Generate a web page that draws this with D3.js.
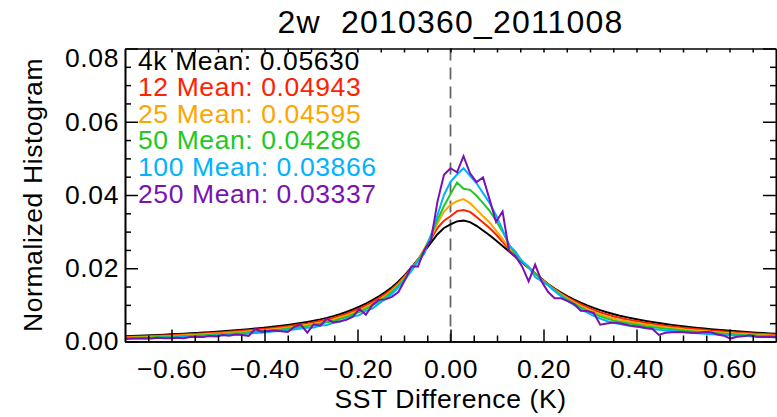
<!DOCTYPE html>
<html><head><meta charset="utf-8">
<script src="https://cdn.jsdelivr.net/npm/d3@7"></script>
<style>
body{margin:0;background:#fff}
svg{display:block}
text{font-family:"Liberation Sans",Arial,Helvetica,sans-serif;fill:#000}
</style>
</head><body>
<svg id="chart" width="777" height="417"></svg>
<script>
// ---------------- data ----------------
const chartTitle = "2w  2010360_2011008";
const xTitle = "SST Difference (K)";
const yTitle = "Normalized Histogram";

const bins = [
-0.700,-0.686,-0.672,-0.658,-0.644,-0.630,-0.616,-0.602,-0.588,-0.574,
-0.560,-0.546,-0.532,-0.518,-0.504,-0.490,-0.476,-0.462,-0.448,-0.434,
-0.420,-0.406,-0.392,-0.378,-0.364,-0.350,-0.336,-0.322,-0.308,-0.294,
-0.280,-0.266,-0.252,-0.238,-0.224,-0.210,-0.196,-0.182,-0.168,-0.154,
-0.140,-0.126,-0.112,-0.098,-0.084,-0.070,-0.056,-0.042,-0.028,-0.014,
0.000,0.014,0.028,0.042,0.056,0.070,0.084,0.098,0.112,0.126,
0.140,0.154,0.168,0.182,0.196,0.210,0.224,0.238,0.252,0.266,
0.280,0.294,0.308,0.322,0.336,0.350,0.364,0.378,0.392,0.406,
0.420,0.434,0.448,0.462,0.476,0.490,0.504,0.518,0.532,0.546,
0.560,0.574,0.588,0.602,0.616,0.630,0.644,0.658,0.672,0.686,
0.700];

const hist4k = [
.00140,.00148,.00156,.00163,.00170,.00178,.00186,.00195,.00204,.00214,
.00224,.00234,.00245,.00256,.00267,.00279,.00292,.00306,.00321,.00337,
.00353,.00370,.00389,.00409,.00430,.00453,.00478,.00505,.00535,.00568,
.00604,.00645,.00692,.00745,.00805,.00873,.00950,.01035,.01130,.01235,
.01350,.01480,.01640,.01820,.02020,.02240,.0246,.0270,.0293,.0310,
.0320,.0328,.0330,.0326,.0316,.0303,.0290,.0276,.0261,.0246,
.0231,.0216,.0201,.0186,.0171,.01570,.01445,.01335,.01235,.01145,
.01062,.00987,.00918,.00856,.00800,.00750,.00705,.00665,.00628,.00594,
.00562,.00532,.00504,.00478,.00454,.00432,.00411,.00391,.00372,.00354,
.00337,.00321,.00306,.00292,.00279,.00266,.00254,.00242,.00231,.00220,
.00210];

const hist12 = [
.00123,.00131,.00139,.00143,.00150,.00158,.00166,.00173,.00182,.00192,
.00202,.00209,.00220,.00231,.00242,.00252,.00265,.00279,.00291,.00307,
.00323,.00338,.00357,.00377,.00395,.00418,.00441,.00468,.00495,.00528,
.00562,.00603,.00647,.00700,.00758,.00826,.00900,.00985,.01080,.01185,
.01303,.01435,.01600,.01788,.01998,.02230,.0252,.0280,.0310,.0330,
.0342,.0356,.0359,.0354,.0340,.0325,.0310,.0292,.0272,.0252,
.0234,.0218,.0202,.0186,.0170,.01560,.01428,.01310,.01203,.01108,
.01017,.00937,.00863,.00799,.00740,.00690,.00648,.00610,.00576,.00544,
.00512,.00485,.00459,.00433,.00412,.00392,.00371,.00354,.00335,.00319,
.00302,.00289,.00274,.00262,.00249,.00239,.00227,.00215,.00206,.00195,
.00185];

const hist25 = [
.00105,.00113,.00121,.00123,.00130,.00138,.00146,.00150,.00159,.00169,
.00179,.00184,.00195,.00206,.00217,.00224,.00237,.00251,.00261,.00277,
.00293,.00305,.00324,.00344,.00360,.00383,.00403,.00430,.00455,.00488,
.00519,.00560,.00602,.00655,.00710,.00778,.00850,.00935,.01030,.01135,
.01255,.01390,.01560,.01755,.01975,.02220,.0254,.0285,.0322,.0355,
.0373,.0383,.0389,.0378,.0360,.0342,.0325,.0303,.0280,.0256,
.0236,.0219,.0202,.0185,.0169,.01550,.01410,.01285,.01170,.01070,
.00972,.00887,.00808,.00741,.00680,.00630,.00590,.00555,.00523,.00494,
.00462,.00437,.00414,.00388,.00369,.00352,.00331,.00316,.00297,.00284,
.00267,.00256,.00241,.00232,.00219,.00211,.00199,.00187,.00181,.00170,
.00160];

const hist50 = [
.00090,.00098,.00106,.00105,.00112,.00120,.00128,.00130,.00139,.00149,
.00159,.00162,.00173,.00184,.00195,.00200,.00213,.00227,.00235,.00251,
.00267,.00276,.00295,.00315,.00329,.00352,.00370,.00397,.00420,.00453,
.00482,.00523,.00562,.00615,.00668,.00736,.00806,.00891,.00986,.01091,
.01213,.01350,.01525,.01726,.01955,.02211,.0250,.0290,.0332,.0370,
.0403,.0434,.0417,.0414,.0398,.0378,.0357,.0330,.0300,.0265,
.0238,.0220,.0203,.0186,.0168,.01541,.01395,.01263,.01141,.01037,
.00932,.00843,.00760,.00690,.00627,.00577,.00539,.00507,.00477,.00450,
.00418,.00395,.00374,.00348,.00332,.00317,.00296,.00283,.00264,.00253,
.00236,.00227,.00212,.00206,.00193,.00187,.00175,.00163,.00159,.00148,
.00138];

const hist100 = [
.00070,.00078,.00086,.00083,.00090,.00098,.00106,.00105,.00114,.00124,
.00134,.00134,.00145,.00156,.00167,.00169,.00182,.00196,.00201,.00217,
.00233,.00240,.00259,.00279,.00290,.00313,.00328,.00355,.00375,.00385,
.00434,.00450,.00512,.00540,.00615,.00683,.00720,.00835,.00900,.01035,
.01160,.01300,.01480,.01690,.01930,.02200,.0240,.0290,.0345,.0400,
.0436,.0456,.0473,.0452,.0432,.0405,.0378,.0345,.0305,.0262,
.0245,.0218,.0204,.0176,.0165,.01530,.01375,.01235,.01105,.00995,
.00882,.00787,.00698,.00626,.00560,.00510,.00475,.00445,.00418,.00394,
.00362,.00342,.00324,.00298,.00284,.00272,.00251,.00241,.00222,.00214,
.00197,.00191,.00176,.00172,.00159,.00156,.00144,.00132,.00131,.00120,
.00110];

const hist250 = [
.0007,.0008,.0008,.0009,.0008,.0010,.0009,.0009,.0010,.0009,
.0012,.0013,.0012,.0015,.0014,.0018,.0016,.0019,.0018,.0015,
.0034,.0027,.0029,.0030,.0028,.0026,.0040,.0046,.0024,.0047,
.0043,.0062,.0052,.0055,.0059,.0068,.0089,.0073,.0100,.0114,
.0115,.0122,.0135,.0168,.0205,.0205,.0250,.0277,.0382,.0455,
.0473,.0462,.0506,.0459,.0435,.0448,.0388,.0327,.0355,.0247,
.0232,.0205,.0164,.0210,.0164,.0135,.0118,.0118,.0110,.0102,
.0084,.0083,.0078,.0046,.0049,.0052,.0050,.0046,.0042,.0040,
.0037,.0035,.0018,.0024,.0025,.0026,.0025,.0024,.0023,.0026,
.0025,.0019,.0016,.0008,.0013,.0014,.0017,.0013,.0012,.0013,
.0012];

const seriesNames = ["4k", "12", "25", "50", "100", "250"];
const seriesMeans = ["0.05630", "0.04943", "0.04595", "0.04286", "0.03866", "0.03337"];
const seriesValues = [hist4k, hist12, hist25, hist50, hist100, hist250];
const seriesColors = ["#000000", "#ff2200", "#ffa500", "#22c822", "#00b2ff", "#7a12b2"];

const xMajorTicks = [-0.6, -0.4, -0.2, 0.0, 0.2, 0.4, 0.6];
const xMinorTicks = [-0.65,-0.55,-0.5,-0.45,-0.35,-0.3,-0.25,-0.15,-0.1,-0.05,0.05,0.1,0.15,0.25,0.3,0.35,0.45,0.5,0.55,0.65];
const yMajorTicks = [0.00, 0.02, 0.04, 0.06, 0.08];
const yMinorTicks = [0.005,0.01,0.015,0.025,0.03,0.035,0.045,0.05,0.055,0.065,0.07,0.075];

// ---------------- layout ----------------
const L = 125, R = 776, T = 48.5, B = 341.5;
const FS = 26.5, LS = 0.6;

const svg = d3.select("#chart");
const x = d3.scaleLinear().domain([-0.7, 0.7]).range([L, R]);
const y = d3.scaleLinear().domain([0, 0.08]).range([B, T]);

svg.append("defs").append("clipPath").attr("id", "plotclip")
  .append("rect").attr("x", L).attr("y", T).attr("width", R - L).attr("height", B - T);

// dashed zero line
svg.append("line")
  .attr("x1", x(0)).attr("x2", x(0)).attr("y1", y(0.08)).attr("y2", y(0))
  .attr("stroke", "#666").attr("stroke-width", 1.8).attr("stroke-dasharray", "12,7");

// curves
const line = d3.line().x((d, i) => x(bins[i])).y(d => y(d));
const curves = svg.append("g").attr("clip-path", "url(#plotclip)");
seriesValues.forEach((vals, k) => {
  curves.append("path").datum(vals)
    .attr("d", line).attr("fill", "none")
    .attr("stroke", seriesColors[k]).attr("stroke-width", 2)
    .attr("stroke-linejoin", "miter").attr("stroke-miterlimit", 3);
});

// axes
const fmt = d3.format(".2f");
function styleAxis(g) {
  g.selectAll("path.domain").attr("stroke", "#000").attr("stroke-width", 1.6);
  g.selectAll(".tick line").attr("stroke", "#000").attr("stroke-width", 1.5);
  g.selectAll("text").attr("font-size", FS).attr("letter-spacing", LS)
    .attr("font-family", "'Liberation Sans', Arial, sans-serif").attr("fill", "#000");
}
const gx = svg.append("g").attr("transform", `translate(0,${B})`)
  .call(d3.axisBottom(x).tickValues(xMajorTicks).tickSize(-12).tickSizeOuter(0).tickPadding(17.5).tickFormat(fmt));
styleAxis(gx);
const gxm = svg.append("g").attr("transform", `translate(0,${B})`)
  .call(d3.axisBottom(x).tickValues(xMinorTicks).tickSize(-6).tickSizeOuter(0).tickFormat(""));
styleAxis(gxm);
const gxt = svg.append("g").attr("transform", `translate(0,${T})`)
  .call(d3.axisTop(x).tickValues(xMajorTicks.concat(xMinorTicks)).tickSize(-4).tickSizeOuter(0).tickFormat(""));
styleAxis(gxt);

const gy = svg.append("g").attr("transform", `translate(${L},0)`)
  .call(d3.axisLeft(y).tickValues(yMajorTicks).tickSize(-13).tickSizeOuter(0).tickPadding(6).tickFormat(fmt));
styleAxis(gy);
gy.selectAll(".tick text").filter(d => d === 0.08).attr("dy", "0.68em");
const gym = svg.append("g").attr("transform", `translate(${L},0)`)
  .call(d3.axisLeft(y).tickValues(yMinorTicks).tickSize(-6).tickSizeOuter(0).tickFormat(""));
styleAxis(gym);
const gyr = svg.append("g").attr("transform", `translate(${R},0)`)
  .call(d3.axisRight(y).tickValues(yMajorTicks).tickSize(-13).tickSizeOuter(0).tickFormat(""));
styleAxis(gyr);
const gyrm = svg.append("g").attr("transform", `translate(${R},0)`)
  .call(d3.axisRight(y).tickValues(yMinorTicks).tickSize(-6).tickSizeOuter(0).tickFormat(""));
styleAxis(gyrm);

// titles
svg.append("text").attr("x", (L + R) / 2).attr("y", 33)
  .attr("text-anchor", "middle").attr("font-size", 32).attr("letter-spacing", 1.2)
  .style("white-space", "pre").text(chartTitle);
svg.append("text").attr("x", (L + R) / 2).attr("y", 408)
  .attr("text-anchor", "middle").attr("font-size", FS).attr("letter-spacing", LS).text(xTitle);
svg.append("text").attr("transform", `translate(41.5,${(T + B) / 2}) rotate(-90)`)
  .attr("text-anchor", "middle").attr("font-size", FS).attr("letter-spacing", LS).text(yTitle);

// legend
const legend = svg.append("g");
seriesNames.forEach((n, k) => {
  legend.append("text").attr("x", 138).attr("y", 69.5 + k * 26.6)
    .attr("font-size", FS).attr("letter-spacing", LS)
    .style("fill", seriesColors[k])
    .text(`${n} Mean: ${seriesMeans[k]}`);
});
</script>
</body></html>
